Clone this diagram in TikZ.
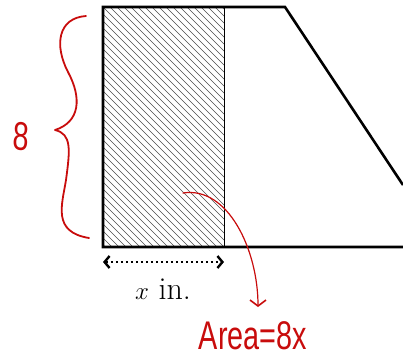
\documentclass[tikz,border=0pt]{standalone}
\usepackage{fontspec}
\newfontfamily\hand{Liberation Sans}
\usetikzlibrary{arrows.meta}
\definecolor{pen}{RGB}{200,12,12}
\begin{document}
\begin{tikzpicture}[x=1pt,y=-1pt,
  thickline/.style={line width=2.6pt, line join=miter},
  hatchline/.style={line width=0.55pt, black!70},
  redpen/.style={pen, line width=1.8pt, line cap=round, line join=round},
  handtext/.style={pen, font=\hand\fontsize{40}{44}\selectfont, xscale=0.72}]
\useasboundingbox (0,0) rectangle (403,362);
\coordinate (TL) at (103,7);
\coordinate (TR) at (285,7);
\coordinate (BL) at (103,247);
\coordinate (BR) at (403,247);
\coordinate (SE) at (403,185);
\coordinate (HT) at (224,7);
\coordinate (HB) at (224,247);
% hatching
\begin{scope}
  \clip (TL) rectangle (HB);
  \foreach \i in {-252,-245,...,130}
    \draw[hatchline] (103+\i,7) -- ++(250,250);
\end{scope}
\draw[line width=0.8pt] (HT) -- (HB);
\draw[thickline] (SE) -- (TR) -- (TL) -- (BL) -- (BR);
% dotted dimension arrow
\coordinate (DL) at (103,262);
\coordinate (DR) at (224,262);
\draw[dash pattern=on 2.4pt off 2.6pt, line width=2.2pt, {Straight Barb[length=5pt,width=12pt,line width=2.4pt]}-{Straight Barb[length=5pt,width=12pt,line width=2.4pt]}] (DL) -- (DR);
\node (xlab) at (163,289) {\fontsize{32}{36}\selectfont $x$ in.};
% red brace
\draw[redpen] (86,16) .. controls (58,18) and (54,45) .. (68,72)
  .. controls (82,98) and (80,122) .. (55,130)
  .. controls (72,134) and (70,150) .. (66,180)
  .. controls (62,205) and (52,232) .. (89,238);
\node[handtext, rotate=-4] (eight) at (21,137) {8};
% area label and arrow
\node[handtext] (area) at (253,336) {Area=8x};
\coordinate (AS) at (183,193);
\coordinate (AE) at (258,307);
\draw[redpen, line width=1.2pt, -{Straight Barb[length=6pt,width=16pt,line width=1.6pt]}] (AS) .. controls (228,186) and (258,250) .. (AE);
\end{tikzpicture}
\end{document}
